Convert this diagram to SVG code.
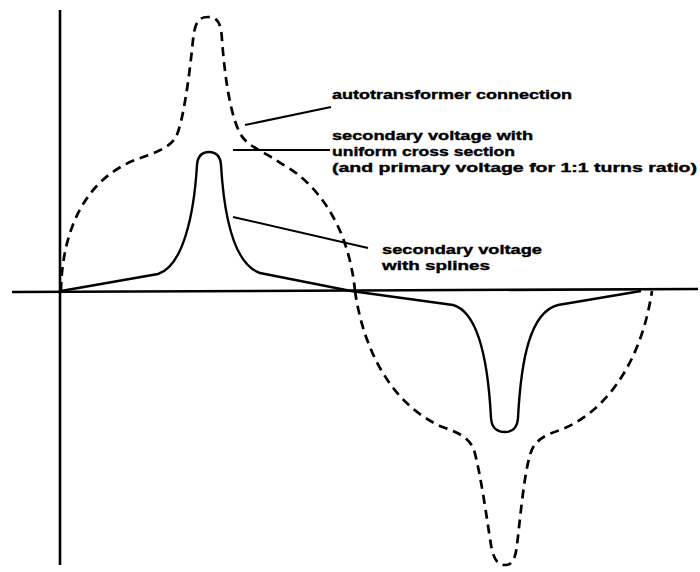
<svg xmlns="http://www.w3.org/2000/svg" width="700" height="572" viewBox="0 0 700 572">
<style>
.ax{stroke:#000;stroke-width:2.6;fill:none;stroke-linecap:butt}
.sol{stroke:#000;stroke-width:2.4;fill:none;stroke-linejoin:round}
.dash{stroke:#000;stroke-width:2.7;fill:none;stroke-dasharray:9,6}
.lead{stroke:#000;stroke-width:2;fill:none}
.lbl{font-family:"Liberation Sans",Arial,sans-serif;font-weight:bold;font-size:12px;fill:#000;stroke:#000;stroke-width:0.35}
</style>
<rect width="700" height="572" fill="#fff"/>
<g id="axes">
<line class="ax" x1="60" y1="10" x2="60" y2="565"/>
<line class="ax" x1="12" y1="292" x2="698" y2="289"/>
</g>
<g id="curve-autotransformer">
<path class="dash" d="M61,291 C62,230 85,180 135,160 C150,154 168,150 176,137 C183,122 189,80 193,40 C195,20 200,17 208,17 C216,17 221,20 222,40 C225,80 231,118 241,135 C248,147 265,152 282,164 C312,180 348,220 355,291"/>
<path class="dash" d="M355,291 C362,340 385,400 440,426 C455,432 468,435 474,450 C481,475 487,520 491,545 C494,562 499,565 505,565 C511,565 515,562 517,545 C520,520 524,475 530,455 C534,440 545,435 560,430 C600,415 640,370 652,291"/>
</g>
<g id="curve-secondary">
<path class="sol" d="M61,291 L158,274 C183,266 194,215 197,165 Q198,152 209,152 Q220,152 221,165 C224,215 234,264 260,273 L351,291 L453,305 C478,312 488,360 491,418 Q492,432 505,432 Q517,432 518,418 C521,360 530,312 558,305 L641,291"/>
</g>
<g id="connectors">
<line class="lead" x1="245" y1="125" x2="331" y2="107"/>
<line class="lead" x1="233" y1="150" x2="330" y2="150"/>
<line class="lead" x1="233" y1="217" x2="368" y2="248"/>
</g>
<g id="label-autotransformer">
<text class="lbl" x="332" y="99" textLength="240" lengthAdjust="spacingAndGlyphs">autotransformer connection</text>
</g>
<g id="label-uniform">
<text class="lbl" x="332" y="140" textLength="201" lengthAdjust="spacingAndGlyphs">secondary voltage with</text>
<text class="lbl" x="332" y="156" textLength="183" lengthAdjust="spacingAndGlyphs">uniform cross section</text>
<text class="lbl" x="332" y="172" textLength="365" lengthAdjust="spacingAndGlyphs">(and primary voltage for 1:1 turns ratio)</text>
</g>
<g id="label-splines">
<text class="lbl" x="382" y="254" textLength="160" lengthAdjust="spacingAndGlyphs">secondary voltage</text>
<text class="lbl" x="382" y="270" textLength="108" lengthAdjust="spacingAndGlyphs">with splines</text>
</g>
</svg>
